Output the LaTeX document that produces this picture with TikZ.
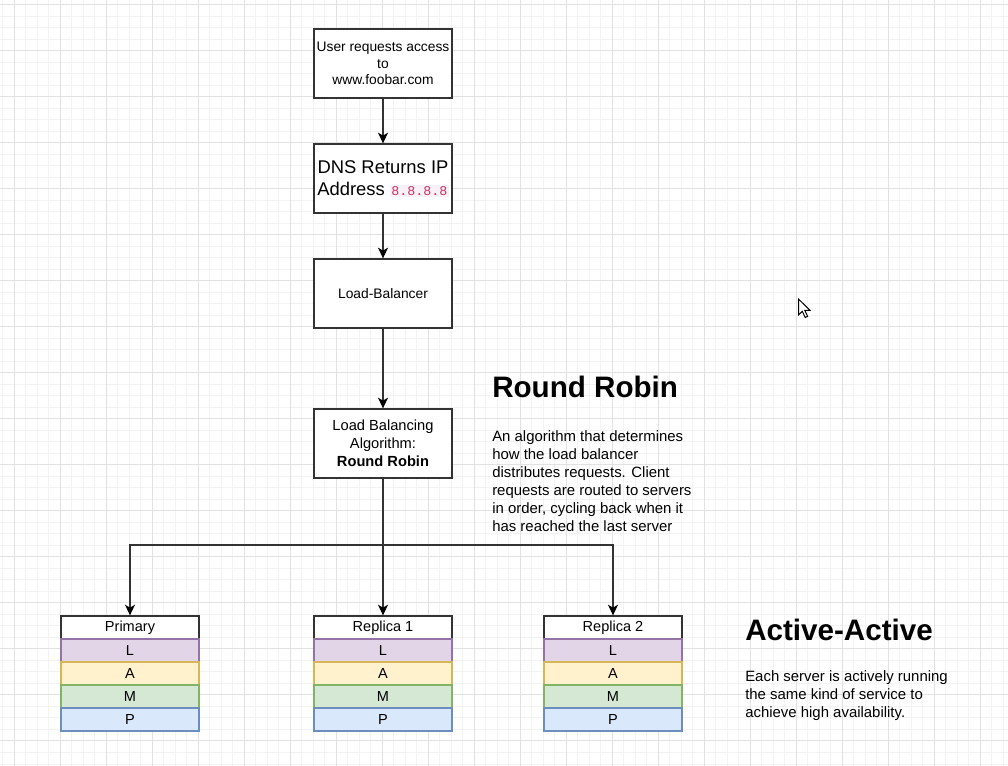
\documentclass[tikz,border=0pt]{standalone}
\usepackage{fontspec}
\setmainfont{Liberation Sans}
\setmonofont{Liberation Mono}
\usetikzlibrary{arrows.meta}
\definecolor{gmin}{HTML}{F3F3F3}
\definecolor{gmaj}{HTML}{E2E2E2}
\definecolor{ink}{HTML}{333333}
\definecolor{codefg}{HTML}{D0306A}
\definecolor{codebg}{HTML}{F9F2F4}
\definecolor{lfill}{HTML}{E1D5E7}\definecolor{ldraw}{HTML}{9673A6}
\definecolor{afill}{HTML}{FFF2CC}\definecolor{adraw}{HTML}{D6B656}
\definecolor{mfill}{HTML}{D5E8D4}\definecolor{mdraw}{HTML}{82B366}
\definecolor{pfill}{HTML}{DAE8FC}\definecolor{pdraw}{HTML}{6C8EBF}
\newcommand\codetxt[1]{\begingroup\setlength\fboxsep{1pt}\colorbox{codebg}{\fontsize{10}{11}\selectfont\ttfamily\color{codefg}#1}\endgroup}
\begin{document}
\begin{tikzpicture}[x=0.75pt,y=-0.75pt,
  gridminor/.style={draw=gmin,line width=0.75pt},
  gridmajor/.style={draw=gmaj,line width=0.75pt},
  flowbox/.style={draw=ink,line width=1pt,fill=white,minimum width=103.5pt,minimum height=51.75pt,inner sep=0pt,align=center},
  rowbox/.style={line width=0.9pt,minimum width=103.5pt,minimum height=17.25pt,inner sep=0pt,font=\fontsize{10.9}{13}\selectfont},
  hdrbox/.style={rowbox,draw=ink,fill=white},
  lbox/.style={rowbox,draw=ldraw,fill=lfill},
  abox/.style={rowbox,draw=adraw,fill=afill},
  mbox/.style={rowbox,draw=mdraw,fill=mfill},
  pbox/.style={rowbox,draw=pdraw,fill=pfill},
  conn/.style={draw=ink,line width=1pt,-{Stealth[length=8pt,width=7.5pt,inset=2.2pt,color=black]}},
  plainconn/.style={draw=ink,line width=1pt},
  heading/.style={anchor=west,inner sep=0pt,font=\fontsize{22.2}{26}\selectfont\bfseries},
  bodytext/.style={anchor=west,inner sep=0pt,align=left,font=\fontsize{11.2}{13.4}\selectfont}
]
\useasboundingbox (0,0) rectangle (1008,766);
\fill[white] (0,0) rectangle (1008,766);
% grid
\foreach \i in {0,...,87} {\pgfmathsetmacro\xx{2.5+11.5*\i}\draw[gridminor] (\xx,0) -- (\xx,766);}
\foreach \i in {0,...,66} {\pgfmathsetmacro\yy{5+11.5*\i}\draw[gridminor] (0,\yy) -- (1008,\yy);}
\foreach \i in {0,...,21} {\pgfmathsetmacro\xx{14+46*\i}\draw[gridmajor] (\xx,0) -- (\xx,766);}
\foreach \i in {0,...,16} {\pgfmathsetmacro\yy{5+46*\i}\draw[gridmajor] (0,\yy) -- (1008,\yy);}

% flow boxes
\node[flowbox,font=\fontsize{10.35}{12.4}\selectfont] (req) at (383,63.5) {User requests access\\to\\www.foobar.com};
\node[flowbox,font=\fontsize{13.8}{16.5}\selectfont] (dns) at (383,178.5) {DNS Returns IP\\Address \codetxt{8.8.8.8}};
\node[flowbox,font=\fontsize{10.35}{12.4}\selectfont] (lb) at (383,293.5) {Load-Balancer};
\node[flowbox,font=\fontsize{11}{13.5}\selectfont] (algo) at (383,443.5) {Load Balancing\\Algorithm:\\\textbf{Round Robin}};

% servers
\foreach \x/\n/\t in {130/p/Primary,383/ra/Replica 1,613/rb/Replica 2} {
  \node[hdrbox] (\n h) at (\x,627.5) {\t};
  \node[lbox] (\n l) at (\x,650.5) {L};
  \node[abox] (\n a) at (\x,673.5) {A};
  \node[mbox] (\n m) at (\x,696.5) {M};
  \node[pbox] (\n p) at (\x,719.5) {P};
}

% connectors
\draw[conn] (req.south) -- (dns.north);
\draw[conn] (dns.south) -- (lb.north);
\draw[conn] (lb.south) -- (algo.north);
\coordinate (bus) at (383,545);
\draw[plainconn] (algo.south) -- (bus);
\draw[conn] (bus) -| (ph.north);
\draw[conn] (bus) -- (rah.north);
\draw[conn] (bus) -| (rbh.north);

% texts
\node[heading] (rrhead) at (492,387) {Round Robin};
\node[bodytext] (rrbody) at (492,481) {An algorithm that determines\\how the load balancer\\distributes requests. Client\\requests are routed to servers\\in order, cycling back when it\\has reached the last server};
\node[heading] (aahead) at (745,630) {Active-Active};
\node[bodytext] (aabody) at (745,695.5) {Each server is actively running\\the same kind of service to\\achieve high availability.};

% mouse cursor
\draw[black,fill=white,line width=0.75pt,line join=miter] (798.5,299) -- (798.5,315) -- (802.3,311.3) -- (805.2,317.5) -- (807.6,316.4) -- (804.8,310.4) -- (810,310.4) -- cycle;
\end{tikzpicture}
\end{document}
